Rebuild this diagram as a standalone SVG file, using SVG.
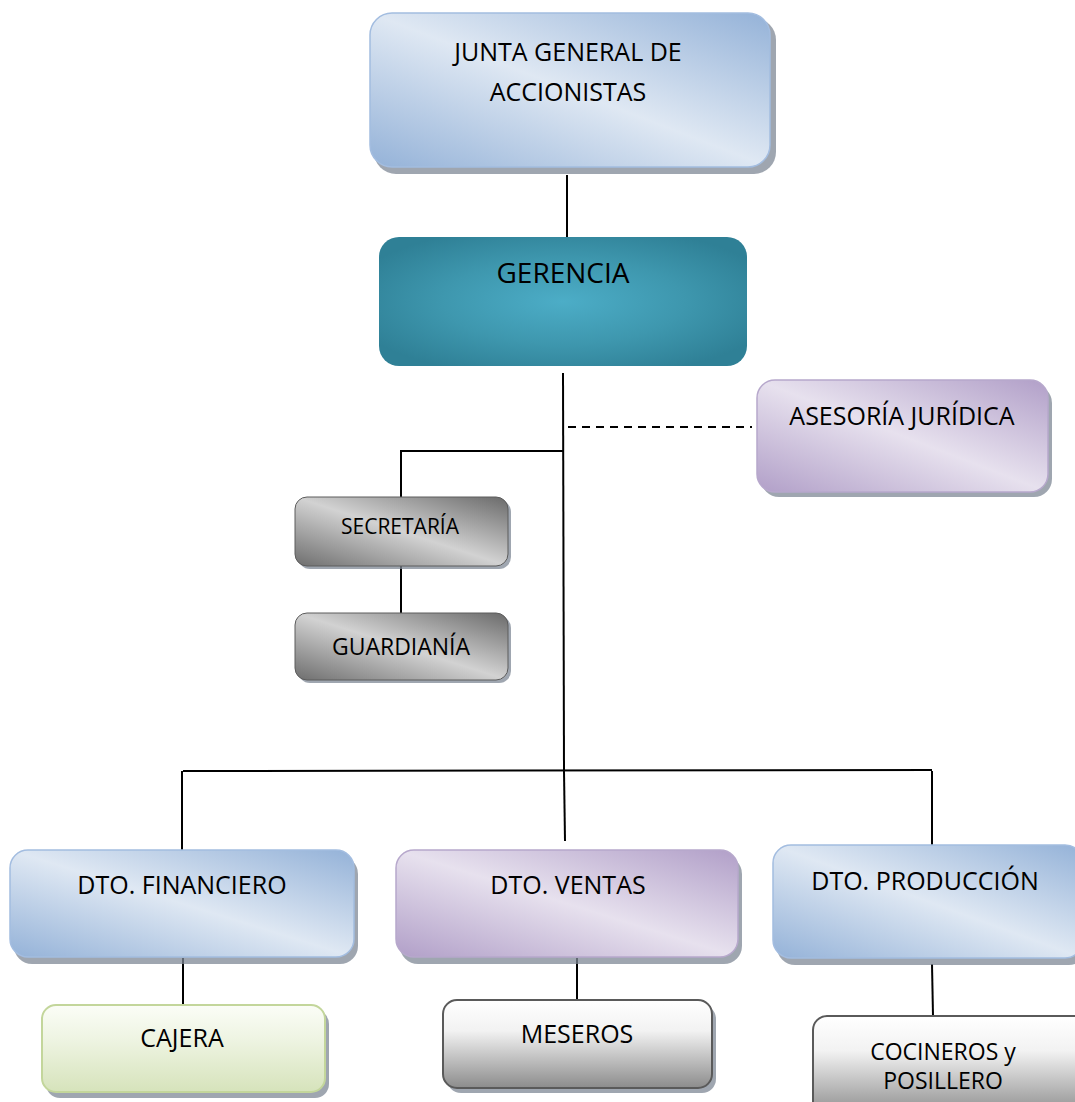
<svg xmlns="http://www.w3.org/2000/svg" width="1075" height="1102" viewBox="0 0 1075 1102">
  <defs>
    <linearGradient id="gBlue" x1="1" y1="0" x2="0" y2="1">
      <stop offset="0" stop-color="#94b2d8"/>
      <stop offset="0.5" stop-color="#dfe8f3"/>
      <stop offset="1" stop-color="#94b2d8"/>
    </linearGradient>
    <linearGradient id="gPurple" x1="1" y1="0" x2="0" y2="1">
      <stop offset="0" stop-color="#b19fc8"/>
      <stop offset="0.5" stop-color="#e7e1ee"/>
      <stop offset="1" stop-color="#b19fc8"/>
    </linearGradient>
    <linearGradient id="gGray" x1="1" y1="0" x2="0" y2="1">
      <stop offset="0" stop-color="#6a6a6a"/>
      <stop offset="0.5" stop-color="#d2d2d2"/>
      <stop offset="1" stop-color="#6e6e6e"/>
    </linearGradient>
    <linearGradient id="gFade" x1="0" y1="0" x2="0" y2="1">
      <stop offset="0" stop-color="#ffffff"/>
      <stop offset="0.35" stop-color="#f2f2f2"/>
      <stop offset="1" stop-color="#8c8c8c"/>
    </linearGradient>
    <linearGradient id="gGreen" x1="0" y1="0" x2="0" y2="1">
      <stop offset="0" stop-color="#fbfdf7"/>
      <stop offset="0.4" stop-color="#eef4e2"/>
      <stop offset="1" stop-color="#d6e3bb"/>
    </linearGradient>
    <radialGradient id="gTeal" cx="0.5" cy="0.5" r="0.6">
      <stop offset="0" stop-color="#4cadc7"/>
      <stop offset="0.55" stop-color="#3e97ae"/>
      <stop offset="1" stop-color="#2f8096"/>
    </radialGradient>
  </defs>
  <style>
    .lbl { font-family: "Open Sans", "Liberation Sans", sans-serif; fill: #000; text-anchor: middle; }
    .shadow { fill: #7f8895; opacity: 0.75; }
    .blue { fill: url(#gBlue); stroke: #a3bde0; stroke-width: 1.5; }
    .purple { fill: url(#gPurple); stroke: #b7a8cc; stroke-width: 1.5; }
    .gray { fill: url(#gGray); stroke: #5c5c5c; stroke-width: 1; }
    .fade { fill: url(#gFade); stroke: #5a5a5a; stroke-width: 2; }
    .green { fill: url(#gGreen); stroke: #c3d69b; stroke-width: 2; }
    .line { stroke: #000; stroke-width: 2; fill: none; }
  </style>

  <rect width="1075" height="1102" fill="#ffffff"/>

  <!-- connectors -->
  <g id="connectors">
    <line class="line" x1="567" y1="175" x2="567" y2="240"/>
    <line class="line" x1="563" y1="373" x2="564" y2="771"/>
    <line class="line" x1="564" y1="771" x2="565" y2="841"/>
    <line class="line" x1="568" y1="427" x2="752" y2="427" stroke-dasharray="8 6"/>
    <polyline class="line" stroke-width="2.5" points="563,451 401,451 401,497"/>
    <line class="line" stroke-width="2.5" x1="401" y1="566" x2="401" y2="613"/>
    <line class="line" x1="183" y1="771" x2="932" y2="770"/>
    <line class="line" x1="182" y1="771" x2="182" y2="852"/>
    <line class="line" x1="932" y1="771" x2="932" y2="845"/>
    <line class="line" x1="183" y1="958" x2="183" y2="1004"/>
    <line class="line" x1="577" y1="958" x2="577" y2="1000"/>
    <line class="line" x1="932" y1="964" x2="933" y2="1016"/>
  </g>

  <!-- board -->
  <g id="junta">
    <rect class="shadow" x="374" y="18" width="402" height="156" rx="22"/>
    <rect class="blue" x="370" y="13" width="400" height="154" rx="22"/>
    <text class="lbl" x="568" y="61" font-size="25">JUNTA GENERAL DE</text>
    <text class="lbl" x="568" y="101" font-size="25">ACCIONISTAS</text>
  </g>

  <g id="gerencia">
    <rect x="379" y="237" width="368" height="129" rx="20" fill="url(#gTeal)"/>
    <text class="lbl" x="563" y="283" font-size="28">GERENCIA</text>
  </g>

  <g id="asesoria">
    <rect class="shadow" x="761" y="385" width="291" height="112" rx="18"/>
    <rect class="purple" x="757" y="380" width="291" height="112" rx="18"/>
    <text class="lbl" x="902" y="425" font-size="25">ASESORÍA JURÍDICA</text>
  </g>

  <g id="secretaria">
    <rect class="shadow" x="298" y="500" width="213" height="69" rx="12" opacity="0.5"/>
    <rect class="gray" x="295" y="497" width="213" height="69" rx="12"/>
    <text class="lbl" x="400" y="534" font-size="21">SECRETARÍA</text>
  </g>

  <g id="guardiania">
    <rect class="shadow" x="298" y="616" width="213" height="67" rx="12" opacity="0.5"/>
    <rect class="gray" x="295" y="613" width="213" height="67" rx="12"/>
    <text class="lbl" x="401" y="655" font-size="23">GUARDIANÍA</text>
  </g>

  <g id="dto-financiero">
    <rect class="shadow" x="14" y="856" width="344" height="108" rx="18"/>
    <rect class="blue" x="10" y="850" width="344" height="107" rx="18"/>
    <text class="lbl" x="182" y="894" font-size="25">DTO. FINANCIERO</text>
  </g>

  <g id="dto-ventas">
    <rect class="shadow" x="400" y="856" width="342" height="108" rx="18"/>
    <rect class="purple" x="396" y="850" width="342" height="107" rx="18"/>
    <text class="lbl" x="568" y="894" font-size="25">DTO. VENTAS</text>
  </g>

  <g id="dto-produccion">
    <rect class="shadow" x="777" y="851" width="310" height="114" rx="18"/>
    <rect class="blue" x="773" y="845" width="310" height="113" rx="18"/>
    <text class="lbl" x="925" y="890" font-size="25">DTO. PRODUCCIÓN</text>
  </g>

  <g id="cajera">
    <rect class="shadow" x="46" y="1010" width="283" height="88" rx="14" opacity="0.6"/>
    <rect class="green" x="42" y="1005" width="283" height="87" rx="14"/>
    <text class="lbl" x="182" y="1047" font-size="25">CAJERA</text>
  </g>

  <g id="meseros">
    <rect class="shadow" x="447" y="1005" width="269" height="88" rx="14" opacity="0.6"/>
    <rect class="fade" x="443" y="1000" width="269" height="88" rx="14"/>
    <text class="lbl" x="577" y="1043" font-size="25">MESEROS</text>
  </g>

  <g id="cocineros">
    <rect class="fade" x="813" y="1016" width="280" height="100" rx="14"/>
    <text class="lbl" x="943" y="1060" font-size="23">COCINEROS y</text>
    <text class="lbl" x="943" y="1089" font-size="23">POSILLERO</text>
  </g>
</svg>
